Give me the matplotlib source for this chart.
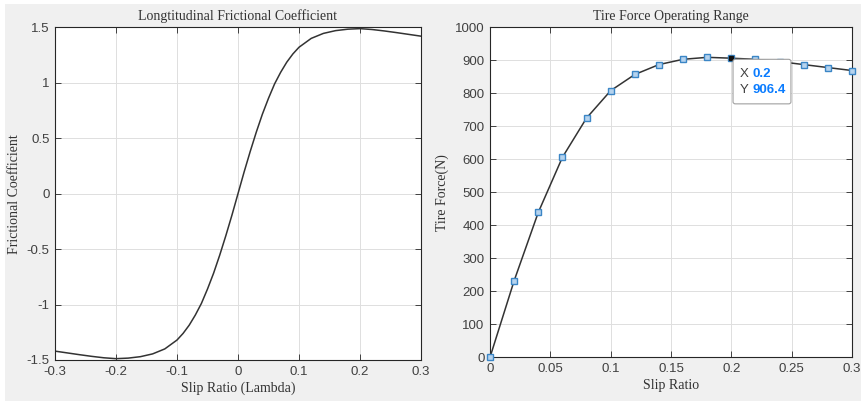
import matplotlib
matplotlib.use("Agg")
from matplotlib import pyplot as plt
from matplotlib.patches import Rectangle, FancyBboxPatch

# --- data ---
# left: longitudinal frictional coefficient vs slip ratio
slip_mu = [-0.30, -0.28, -0.26, -0.24, -0.22, -0.20, -0.18, -0.16, -0.14, -0.12,
           -0.10, -0.09, -0.08, -0.07, -0.06, -0.05, -0.04, -0.03, -0.02, -0.01,
           0.00, 0.01, 0.02, 0.03, 0.04, 0.05, 0.06, 0.07, 0.08, 0.09, 0.10,
           0.12, 0.14, 0.16, 0.18, 0.20, 0.22, 0.24, 0.26, 0.28, 0.30]
mu = [-1.420, -1.436, -1.452, -1.467, -1.480, -1.488, -1.483, -1.470, -1.445, -1.400,
      -1.320, -1.260, -1.186, -1.095, -0.990, -0.860, -0.717, -0.555, -0.380, -0.195,
      0.000, 0.195, 0.380, 0.555, 0.717, 0.860, 0.990, 1.095, 1.186, 1.260, 1.320,
      1.400, 1.445, 1.470, 1.483, 1.488, 1.480, 1.467, 1.452, 1.436, 1.420]

# right: tire force at the marked slip ratios
slip_f = [0.00, 0.02, 0.04, 0.06, 0.08, 0.10, 0.12, 0.14, 0.16, 0.18,
          0.20, 0.22, 0.24, 0.26, 0.28, 0.30]
force = [0, 232, 439, 606, 725, 808, 857, 887, 903, 909,
         906.4, 903, 896, 887, 878, 869]

tip_x, tip_y = 0.2, 906.4

left_xticks = [-0.3, -0.2, -0.1, 0, 0.1, 0.2, 0.3]
left_xlabels = ["-0.3", "-0.2", "-0.1", "0", "0.1", "0.2", "0.3"]
left_yticks = [-1.5, -1, -0.5, 0, 0.5, 1, 1.5]
left_ylabels = ["-1.5", "-1", "-0.5", "0", "0.5", "1", "1.5"]
right_xticks = [0, 0.05, 0.1, 0.15, 0.2, 0.25, 0.3]
right_xlabels = ["0", "0.05", "0.1", "0.15", "0.2", "0.25", "0.3"]
right_yticks = list(range(0, 1001, 100))

GRAY_BG = "#f0f0f0"
AX_COL = "#262626"
TICK_COL = "#404040"
SERIF = "Liberation Serif"
SANS = "Liberation Sans"

fig = plt.figure(figsize=(8.61, 4.01), dpi=100, facecolor="white")
fig.patches.append(Rectangle((5 / 861, 0), 1 - 5 / 861, 1 - 4 / 401,
                             transform=fig.transFigure, facecolor=GRAY_BG,
                             edgecolor="none", zorder=-10))


def style(ax):
    ax.set_facecolor("white")
    for s in ax.spines.values():
        s.set_color(AX_COL)
        s.set_linewidth(0.8)
    ax.tick_params(direction="in", top=True, right=True, length=4, width=0.6,
                   colors=AX_COL, labelcolor=TICK_COL, labelsize=9.5, pad=4)
    for lab in ax.get_xticklabels() + ax.get_yticklabels():
        lab.set_fontfamily(SANS)
    ax.grid(True, color="#dedede", linewidth=0.7)
    ax.set_axisbelow(True)


# left panel
ax1 = fig.add_axes([55 / 861, 1 - 360 / 401, 366 / 861, 332.7 / 401])
ax1.plot(slip_mu, mu, color="#333333", linewidth=1.1)
ax1.set_xlim(-0.3, 0.3)
ax1.set_ylim(-1.5, 1.5)
ax1.set_xticks(left_xticks, left_xlabels)
ax1.set_yticks(left_yticks, left_ylabels)
style(ax1)
ax1.set_title("Longtitudinal Frictional Coefficient", fontfamily=SERIF,
              fontsize=10, color="#333333", pad=5)
ax1.set_xlabel("Slip Ratio (Lambda)", fontfamily=SERIF, fontsize=10,
               color="#333333", labelpad=3)
ax1.set_ylabel("Frictional Coefficient", fontfamily=SERIF, fontsize=10,
               color="#333333", labelpad=4)

# right panel
ax2 = fig.add_axes([490 / 861, 1 - 357.3 / 401, 362 / 861, 330 / 401])
ax2.plot(slip_f, force, color="#333333", linewidth=1.1, marker="s",
         markersize=5, markerfacecolor="#b5d3ee", markeredgecolor="#3b86c6",
         markeredgewidth=1.0, clip_on=False, zorder=3)
ax2.plot([tip_x], [tip_y], marker="s", markersize=3.5, color="#111111",
         linestyle="none", zorder=4)
ax2.set_xlim(0, 0.3)
ax2.set_ylim(0, 1000)
ax2.set_xticks(right_xticks, right_xlabels)
ax2.set_yticks(right_yticks)
style(ax2)
ax2.set_title("Tire Force Operating Range", fontfamily=SERIF, fontsize=10,
              color="#333333", pad=5)
ax2.set_xlabel("Slip Ratio", fontfamily=SERIF, fontsize=10, color="#333333",
               labelpad=3)
ax2.set_ylabel("Tire Force(N)", fontfamily=SERIF, fontsize=10,
               color="#333333", labelpad=4)

# data tip box
box = FancyBboxPatch((0.2014, 768), 0.048, 135,
                     boxstyle="round,pad=0,rounding_size=0.002",
                     transform=ax2.transData, facecolor="white",
                     edgecolor="#a0a0a0", linewidth=0.8, zorder=5,
                     mutation_aspect=1000 / 0.3 * 330 / 362)
ax2.add_patch(box)
ax2.text(0.2068, 858, "X", fontfamily=SANS, fontsize=9.5, color="#404040",
         va="center", zorder=6)
ax2.text(0.2175, 858, "0.2", fontfamily=SANS, fontsize=9.5, color="#0a7cff",
         fontweight="bold", va="center", zorder=6)
ax2.text(0.2068, 810, "Y", fontfamily=SANS, fontsize=9.5, color="#404040",
         va="center", zorder=6)
ax2.text(0.2175, 810, "906.4", fontfamily=SANS, fontsize=9.5, color="#0a7cff",
         fontweight="bold", va="center", zorder=6)

plt.savefig("out.png", dpi=100, facecolor=fig.get_facecolor())
